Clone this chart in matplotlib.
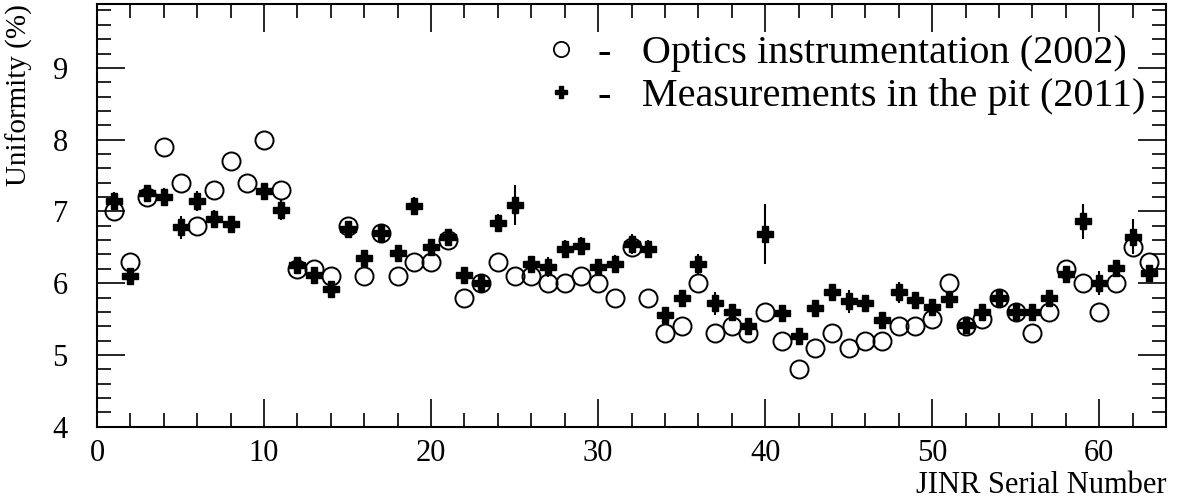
import matplotlib
matplotlib.use("Agg")
import matplotlib.pyplot as plt
from matplotlib.ticker import MultipleLocator
from matplotlib.lines import Line2D

plt.rcParams['font.family'] = ['Liberation Serif', 'DejaVu Serif']
plt.rcParams['mathtext.fontset'] = 'stix'

serial = list(range(1, 64))

optics_2002 = [7.0, 6.3, 7.2, 7.9, 7.4, 6.8, 7.3, 7.7, 7.4, 8.0,
               7.3, 6.2, 6.2, 6.1, 6.8, 6.1, 6.7, 6.1, 6.3, 6.3,
               6.6, 5.8, 6.0, 6.3, 6.1, 6.1, 6.0, 6.0, 6.1, 6.0,
               5.8, 6.5, 5.8, 5.3, 5.4, 6.0, 5.3, 5.4, 5.3, 5.6,
               5.2, 4.8, 5.1, 5.3, 5.1, 5.2, 5.2, 5.4, 5.4, 5.5,
               6.0, 5.4, 5.5, 5.8, 5.6, 5.3, 5.6, 6.2, 6.0, 5.6,
               6.0, 6.5, 6.3]

pit_serial = [1, 2, 3, 4, 5, 6, 7, 8, 10, 11, 12, 13, 14, 15, 16, 17, 18, 19, 20,
              21, 22, 23, 24, 25, 26, 27, 28, 29, 30, 31, 32, 33, 34, 35, 36, 37,
              38, 39, 40, 41, 42, 43, 44, 45, 46, 47, 48, 49, 50, 51, 52, 53, 54,
              55, 56, 57, 58, 59, 60, 61, 62, 63]
pit_2011 = [7.15, 6.1, 7.25, 7.2, 6.78, 7.15, 6.9, 6.82, 7.28, 7.02,
            6.25, 6.12, 5.92, 6.75, 6.35, 6.7, 6.42, 7.08, 6.5,
            6.65, 6.12, 6.0, 6.84, 7.09, 6.27, 6.22, 6.48, 6.52, 6.22, 6.27,
            6.55, 6.48, 5.55, 5.8, 6.27, 5.72, 5.6, 5.4, 6.69, 5.58,
            5.27, 5.65, 5.88, 5.75, 5.73, 5.48, 5.87, 5.77, 5.67, 5.78,
            5.42, 5.6, 5.8, 5.6, 5.6, 5.79, 6.13, 6.86, 6.0, 6.21,
            6.65, 6.14]
pit_err = [0.12, 0.06, 0.12, 0.12, 0.16, 0.14, 0.12, 0.1, 0.1, 0.14,
           0.07, 0.1, 0.08, 0.1, 0.08, 0.1, 0.08, 0.12, 0.12,
           0.1, 0.08, 0.07, 0.12, 0.28, 0.1, 0.14, 0.12, 0.12, 0.1, 0.12,
           0.14, 0.12, 0.1, 0.08, 0.14, 0.16, 0.08, 0.08, 0.42, 0.08,
           0.08, 0.08, 0.08, 0.16, 0.08, 0.08, 0.14, 0.08, 0.08, 0.1,
           0.07, 0.07, 0.1, 0.07, 0.07, 0.12, 0.1, 0.24, 0.17, 0.1,
           0.24, 0.12]

fig = plt.figure(figsize=(11.77, 4.99), dpi=100)
ax = fig.add_axes([0.0824, 0.1449, 0.9083, 0.8471])

ax.errorbar(pit_serial, pit_2011, yerr=pit_err, fmt='P', color='black',
            markersize=12, elinewidth=1.5, capsize=0, zorder=3)
ax.plot(serial, optics_2002, 'o', mfc='none', mec='black', markersize=13,
        mew=1.4, zorder=4)

ax.set_xlim(0, 64)
ax.set_ylim(4, 9.89)
ax.xaxis.set_major_locator(MultipleLocator(10))
ax.xaxis.set_minor_locator(MultipleLocator(2))
ax.yaxis.set_major_locator(MultipleLocator(1))
ax.yaxis.set_minor_locator(MultipleLocator(0.2))
ax.tick_params(which='both', direction='in', top=True, right=True,
               width=1.2, labelsize=22)
ax.tick_params(which='major', length=20)
ax.tick_params(which='minor', length=10)
ax.tick_params(axis='x', pad=9)
ax.tick_params(axis='y', pad=21)
for s in ax.spines.values():
    s.set_linewidth(1.5)

ax.set_ylabel('Uniformity (%)', fontsize=21, loc='top', labelpad=14)
ax.set_xlabel('JINR Serial Number', fontsize=22, loc='right')
ax.xaxis.label.set_va('baseline')
ax.xaxis.set_label_coords(1.0, -0.158)

h1 = Line2D([], [], ls='none', marker='o', mfc='none', mec='black',
            markersize=11, mew=1.3)
h2 = Line2D([], [], ls='none', marker='P', color='black', markersize=9)
ax.legend([h1, h2], ['-   Optics instrumentation (2002)',
                     '-   Measurements in the pit (2011)'],
          loc='upper right', bbox_to_anchor=(1.003, 0.985), frameon=False,
          fontsize=29, handlelength=1.0, handletextpad=0.4,
          labelspacing=0.15, borderaxespad=0.2)

fig.savefig('out.png', dpi=100)
